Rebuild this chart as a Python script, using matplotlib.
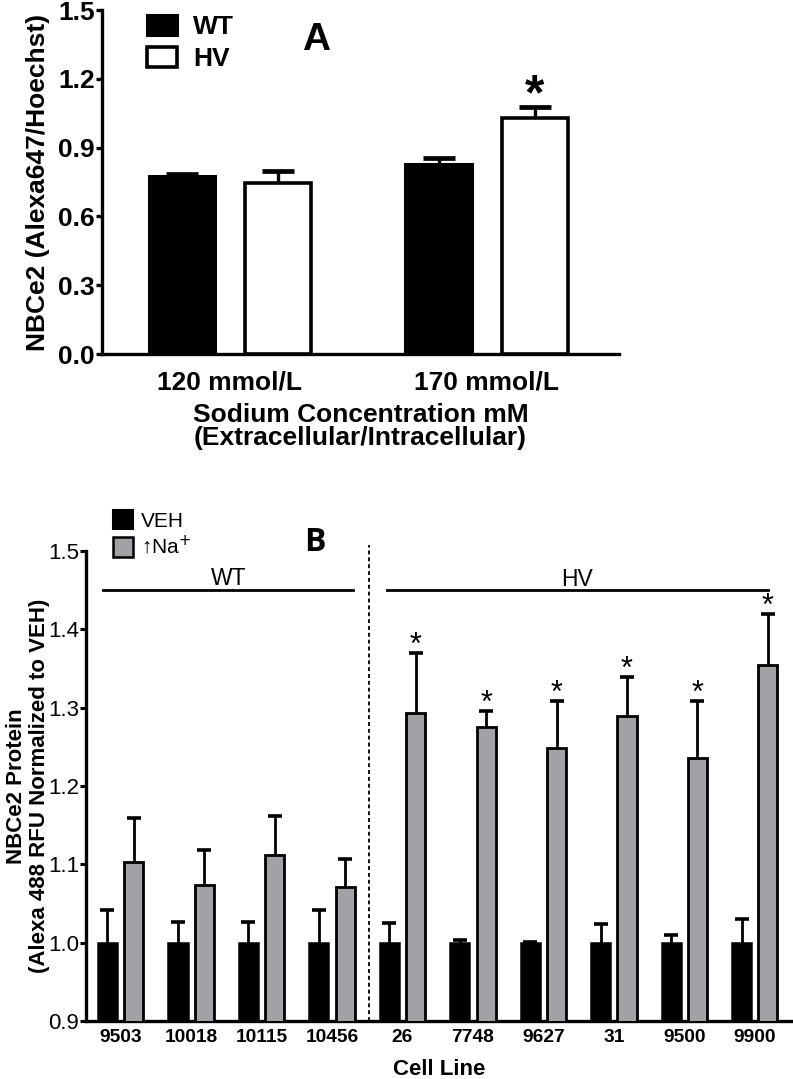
import matplotlib
matplotlib.use("Agg")
import matplotlib.pyplot as plt
import numpy as np
from matplotlib.patches import Patch

plt.rcParams["font.family"] = ["Liberation Sans", "DejaVu Sans"]

# ============================================================
# DATI - PANNELLO A
# ============================================================

a_groups = ["120 mmol/L", "170 mmol/L"]
a_wt = [0.775, 0.830]
a_wt_err = [0.010, 0.025]
a_hv = [0.745, 1.030]
a_hv_err = [0.053, 0.045]
a_significant_hv = [False, True]

# ============================================================
# DATI - PANNELLO B
# ============================================================

b_cell_lines = ["9503", "10018", "10115", "10456",
                "26", "7748", "9627", "31", "9500", "9900"]
b_veh = [1.0, 1.0, 1.0, 1.0, 1.0, 1.0, 1.0, 1.0, 1.0, 1.0]
b_veh_err = [0.042, 0.026, 0.027, 0.042, 0.025, 0.003, 0.001, 0.024, 0.010, 0.030]
b_na = [1.103, 1.074, 1.112, 1.071, 1.293, 1.275, 1.248, 1.290, 1.236, 1.354]
b_na_err = [0.056, 0.044, 0.050, 0.036, 0.077, 0.021, 0.060, 0.049, 0.072, 0.066]
b_significant = [False, False, False, False, True, True, True, True, True, True]
b_wt_count = 4

GRAY = "#a2a2a6"


def upper_error(ax, xpos, values, errors, cap_width, line_width, cap_thick):
    # solo il braccio superiore, con il cappuccio in alto
    values = np.asarray(values)
    errors = np.asarray(errors)
    ax.errorbar(xpos, values, yerr=[np.zeros(len(values)), errors],
                fmt="none", ecolor="black", elinewidth=line_width,
                capsize=0, zorder=2)
    ax.plot(xpos, values + errors, linestyle="none", marker="_",
            markersize=cap_width, markeredgewidth=cap_thick,
            color="black", zorder=2)


fig = plt.figure(figsize=(7.93, 10.79), dpi=100)

# ============================================================
# PANNELLO A
# ============================================================

ax = fig.add_axes([102 / 793, 1 - 354 / 1079, 517 / 793, 344 / 1079])
x = np.arange(len(a_groups))
off = 0.187
w = 0.26

ax.bar(x - off, a_wt, w, color="black", edgecolor="black", linewidth=2.2,
       zorder=3)
ax.bar(x + off, a_hv, w, color="white", edgecolor="black", linewidth=2.6,
       zorder=3)
upper_error(ax, x - off, a_wt, a_wt_err, 23, 2.4, 3.4)
upper_error(ax, x + off, a_hv, a_hv_err, 23, 2.4, 3.4)

for i, sig in enumerate(a_significant_hv):
    if sig:
        ax.text(x[i] + off, a_hv[i] + a_hv_err[i] - 0.05, "*",
                ha="center", va="bottom", fontsize=36, fontweight="bold")

ax.set_xlim(-0.498, 1.514)
ax.set_ylim(0, 1.5)
ax.set_yticks([0.0, 0.3, 0.6, 0.9, 1.2, 1.5])
ax.set_yticklabels([f"{v:.1f}" for v in [0.0, 0.3, 0.6, 0.9, 1.2, 1.5]],
                   fontsize=19, fontweight="bold")
ax.set_xticks(x)
ax.set_xticklabels(a_groups, fontsize=19, fontweight="bold")
ax.tick_params(axis="x", length=0, pad=12)
ax.tick_params(axis="y", length=4, width=2.4, pad=1)
for side in ["top", "right"]:
    ax.spines[side].set_visible(False)
for side in ["left", "bottom"]:
    ax.spines[side].set_linewidth(2.4)

ax.set_ylabel("NBCe2 (Alexa647/Hoechst)", fontsize=19, fontweight="bold",
              labelpad=6)
ax.set_xlabel("Sodium Concentration mM\n(Extracellular/Intracellular)",
              fontsize=19, fontweight="bold", labelpad=6, linespacing=0.95)

ax.legend(handles=[Patch(facecolor="black", edgecolor="black", linewidth=2.2),
                   Patch(facecolor="white", edgecolor="black", linewidth=2.6)],
          labels=["WT", "HV"], loc="upper left", bbox_to_anchor=(0.087, 0.985),
          frameon=False, handlelength=1.15, handleheight=0.75,
          prop=dict(size=19, weight="bold"), labelspacing=0.3,
          handletextpad=0.6, borderpad=0, borderaxespad=0)

ax.text(0.414, 0.884, "A", transform=ax.transAxes, fontsize=28,
        fontweight="bold", ha="center", va="baseline")

# ============================================================
# PANNELLO B
# ============================================================

bx = fig.add_axes([86 / 793, 1 - 1021 / 1079, 707 / 793, 470 / 1079])
xb = np.arange(len(b_cell_lines))
offb = 0.185
wb = 0.27

bx.bar(xb - offb, b_veh, wb, bottom=0, color="black", edgecolor="black",
       linewidth=1.8, zorder=3)
bx.bar(xb + offb, b_na, wb, bottom=0, color=GRAY, edgecolor="black",
       linewidth=2.0, zorder=3)
upper_error(bx, xb - offb, b_veh, b_veh_err, 10, 2.0, 2.6)
upper_error(bx, xb + offb, b_na, b_na_err, 10, 2.0, 2.6)

for i, sig in enumerate(b_significant):
    if sig:
        bx.text(xb[i] + offb, b_na[i] + b_na_err[i] - 0.010, "*",
                ha="center", va="bottom", fontsize=22)

bx.set_xlim(-0.49, 9.54)
bx.set_ylim(0.9, 1.5)
bx.set_yticks([0.9, 1.0, 1.1, 1.2, 1.3, 1.4, 1.5])
bx.set_yticklabels([f"{v:.1f}" for v in [0.9, 1.0, 1.1, 1.2, 1.3, 1.4, 1.5]],
                   fontsize=16)
bx.set_xticks(xb)
bx.set_xticklabels(b_cell_lines, fontsize=13.8, fontweight="bold")
bx.tick_params(axis="x", length=0, pad=6)
bx.tick_params(axis="y", length=4, width=2.2, pad=1)
for side in ["top", "right"]:
    bx.spines[side].set_visible(False)
for side in ["left", "bottom"]:
    bx.spines[side].set_linewidth(2.4)

bx.set_ylabel("NBCe2 Protein\n(Alexa 488 RFU Normalized to VEH)",
              fontsize=16, fontweight="bold", linespacing=1.15)
bx.yaxis.set_label_coords(-0.051, 0.5)
bx.set_xlabel("Cell Line", fontsize=16, fontweight="bold", labelpad=9)

# separatore WT / HV
sep = b_wt_count - 0.47
bx.plot([sep, sep], [0.9, 1.508], linestyle=(0, (2.2, 1.6)), color="black",
        linewidth=1.3, clip_on=False, zorder=2)

bx.plot([-0.25, 3.30], [1.45, 1.45], color="black", linewidth=2.0)
bx.plot([3.78, 9.18], [1.45, 1.45], color="black", linewidth=2.0)
bx.text(1.53, 1.4566, "WT", ha="center", va="baseline", fontsize=16.5)
bx.text(6.48, 1.455, "HV", ha="center", va="baseline", fontsize=16.5)

bx.legend(handles=[Patch(facecolor="black", edgecolor="black", linewidth=1.5),
                   Patch(facecolor=GRAY, edgecolor="black", linewidth=1.8)],
          labels=["VEH", "\u2191Na$^{+}$"], loc="upper left",
          bbox_to_anchor=(0.026, 1.105), frameon=False, handlelength=0.95,
          handleheight=1.05, prop=dict(size=15), labelspacing=0.2,
          handletextpad=0.4, borderaxespad=0)

bx.text(0.324, 1.0, "B", transform=bx.transAxes, fontsize=23,
        fontweight="bold", family="Open Sans", ha="center", va="baseline")

fig.savefig("out.png", dpi=100)
